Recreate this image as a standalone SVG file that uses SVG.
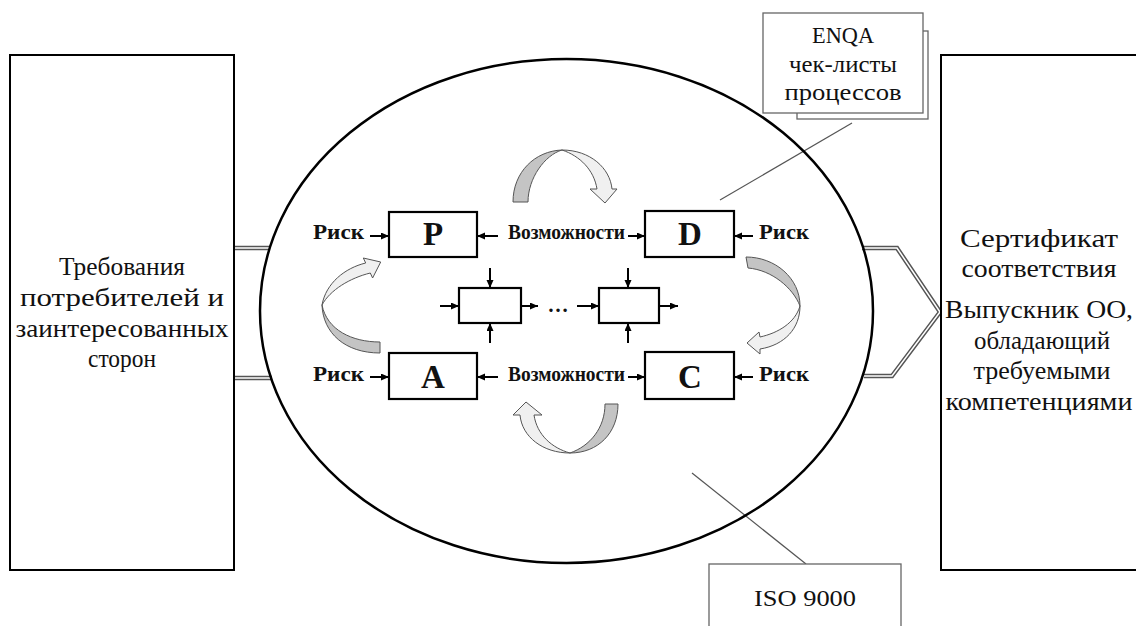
<svg xmlns="http://www.w3.org/2000/svg" width="1136" height="626" viewBox="0 0 1136 626">
<defs>
<marker id="ah" markerUnits="userSpaceOnUse" markerWidth="9" markerHeight="8" refX="8" refY="3.5" orient="auto">
<path d="M0,0 L8,3.5 L0,7 Z" fill="#000"/>
</marker>
<style>
.big{fill:#fff;stroke:#000;stroke-width:2}
.t{font-family:"Liberation Serif","Times New Roman",serif;font-size:25px;fill:#111;text-anchor:middle}
.note{font-family:"Liberation Serif","Times New Roman",serif;font-size:24px;fill:#111;text-anchor:middle}
.lab{font-family:"Liberation Serif","Times New Roman",serif;font-size:21px;font-weight:bold;fill:#111}
.let{font-family:"Liberation Serif","Times New Roman",serif;font-size:33px;font-weight:bold;fill:#111;text-anchor:middle}
.box{fill:#fff;stroke:#000;stroke-width:2.2}
.arr{stroke:#000;stroke-width:2;fill:none;marker-end:url(#ah)}
.dk{fill:#c4c4c4;stroke:#555;stroke-width:1}
.lt{fill:#f0f0f0;stroke:#555;stroke-width:1}
.dbl-o{fill:none;stroke:#555;stroke-width:4.5}
.dbl-i{fill:none;stroke:#fff;stroke-width:1.5}
.ptr{stroke:#555;stroke-width:1.2;fill:none}
.nbox{fill:#fff;stroke:#666;stroke-width:1.3}
</style>
</defs>

<g id="connectors">
<line class="dbl-o" x1="234" y1="248" x2="270" y2="248"/>
<line class="dbl-i" x1="234" y1="248" x2="270" y2="248"/>
<line class="dbl-o" x1="234" y1="378" x2="272" y2="378"/>
<line class="dbl-i" x1="234" y1="378" x2="272" y2="378"/>
<polyline class="dbl-o" points="862,248 897,248 940,312 892,376 864,376"/>
<polyline class="dbl-i" points="862,248 897,248 940,312 892,376 864,376"/>
<line class="ptr" x1="852" y1="123" x2="720" y2="200"/>
<line class="ptr" x1="692" y1="473" x2="806" y2="564"/>
</g>

<g id="requirements">
<rect class="big" x="10" y="55" width="224" height="515"/>
<text class="t" x="122" y="275" textLength="126" lengthAdjust="spacingAndGlyphs">Требования</text>
<text class="t" x="122" y="306" textLength="204" lengthAdjust="spacingAndGlyphs">потребителей и</text>
<text class="t" x="122" y="337" textLength="213" lengthAdjust="spacingAndGlyphs">заинтересованных</text>
<text class="t" x="122" y="367" textLength="68" lengthAdjust="spacingAndGlyphs">сторон</text>
</g>

<g id="result">
<rect class="big" x="941" y="55" width="210" height="515"/>
<text class="t" x="1039" y="247" textLength="158" lengthAdjust="spacingAndGlyphs">Сертификат</text>
<text class="t" x="1039" y="277" textLength="155" lengthAdjust="spacingAndGlyphs">соответствия</text>
<text class="t" x="1039" y="318" textLength="188" lengthAdjust="spacingAndGlyphs">Выпускник ОО,</text>
<text class="t" x="1042" y="349" textLength="136" lengthAdjust="spacingAndGlyphs">обладающий</text>
<text class="t" x="1042" y="379" textLength="137" lengthAdjust="spacingAndGlyphs">требуемыми</text>
<text class="t" x="1039" y="410" textLength="187" lengthAdjust="spacingAndGlyphs">компетенциями</text>
</g>

<g id="system">
<ellipse cx="566.5" cy="311" rx="306.5" ry="252" fill="none" stroke="#000" stroke-width="2.5"/>
</g>

<g id="enqa">
<rect class="nbox" x="797" y="31" width="131" height="88"/>
<rect class="nbox" x="763" y="13" width="160" height="100"/>
<text class="note" x="843" y="43" textLength="62" lengthAdjust="spacingAndGlyphs">ENQA</text>
<text class="note" x="843" y="72" textLength="108" lengthAdjust="spacingAndGlyphs">чек-листы</text>
<text class="note" x="843" y="100" textLength="117" lengthAdjust="spacingAndGlyphs">процессов</text>
</g>

<g id="iso">
<rect class="nbox" x="709" y="564" width="192" height="70"/>
<text class="note" x="805" y="606" textLength="102" lengthAdjust="spacingAndGlyphs">ISO 9000</text>
</g>

<g id="P">
<rect class="box" x="389" y="212" width="88" height="45"/>
<text class="let" x="433" y="245">P</text>
</g>
<g id="D">
<rect class="box" x="645" y="211" width="89" height="46"/>
<text class="let" x="690" y="245">D</text>
</g>
<g id="A">
<rect class="box" x="389" y="353" width="88" height="46"/>
<text class="let" x="433" y="388">A</text>
</g>
<g id="C">
<rect class="box" x="645" y="352" width="89" height="47"/>
<text class="let" x="690" y="388">C</text>
</g>

<g id="sub1"><rect class="box" x="459" y="288" width="62" height="35"/></g>
<g id="sub2"><rect class="box" x="599" y="288" width="60" height="35"/></g>

<g id="labels">
<text class="lab" x="313" y="239" textLength="51" lengthAdjust="spacingAndGlyphs">Риск</text>
<text class="lab" x="508" y="239" textLength="117" lengthAdjust="spacingAndGlyphs">Возможности</text>
<text class="lab" x="759" y="239" textLength="50" lengthAdjust="spacingAndGlyphs">Риск</text>
<text class="lab" x="313" y="381" textLength="51" lengthAdjust="spacingAndGlyphs">Риск</text>
<text class="lab" x="508" y="381" textLength="117" lengthAdjust="spacingAndGlyphs">Возможности</text>
<text class="lab" x="759" y="381" textLength="50" lengthAdjust="spacingAndGlyphs">Риск</text>
<text class="lab" x="558" y="312" text-anchor="middle">…</text>
</g>

<g id="flow-arrows">
<line class="arr" x1="370" y1="236" x2="389" y2="236"/>
<line class="arr" x1="498" y1="236" x2="477" y2="236"/>
<line class="arr" x1="628" y1="236" x2="645" y2="236"/>
<line class="arr" x1="753" y1="236" x2="734" y2="236"/>
<line class="arr" x1="370" y1="377" x2="389" y2="377"/>
<line class="arr" x1="498" y1="377" x2="477" y2="377"/>
<line class="arr" x1="628" y1="377" x2="645" y2="377"/>
<line class="arr" x1="753" y1="377" x2="734" y2="377"/>
<line class="arr" x1="440" y1="306" x2="459" y2="306"/>
<line class="arr" x1="521" y1="306" x2="538" y2="306"/>
<line class="arr" x1="577" y1="306" x2="599" y2="306"/>
<line class="arr" x1="659" y1="306" x2="678" y2="306"/>
<line class="arr" x1="490" y1="268" x2="490" y2="288"/>
<line class="arr" x1="490" y1="343" x2="490" y2="323"/>
<line class="arr" x1="628" y1="268" x2="628" y2="288"/>
<line class="arr" x1="628" y1="343" x2="628" y2="323"/>
</g>

<g id="cycle-arrows">
<path class="dk" d="M513,202 C513,172 535,151 562,150 C545,155 528,178 528,202 Z"/>
<path class="lt" d="M562,150 C590,150 610,168 612,189 L617,189 L605,203 L590,189 L597,189 C594,170 580,156 562,150 Z"/>
<path class="dk" d="M746,257 C775,257 800,278 800,306 C793,288 772,270 748,268 Z"/>
<path class="lt" d="M800,306 C800,328 785,345 760,349 L760,354 L747,343 L759,332 L760,337 C778,333 795,323 800,306 Z"/>
<path class="dk" d="M618,404 C618,433 598,453 570,453 C590,446 605,428 605,404 Z"/>
<path class="lt" d="M570,453 C543,453 522,437 520,415 L513,415 L526,402 L542,415 L534,415 C537,435 552,448 570,453 Z"/>
<path class="dk" d="M380,342 C352,342 327,330 322,305 C323,333 345,353 380,353 Z"/>
<path class="lt" d="M322,305 C326,283 345,268 365.7,263 L363.3,258 L380.7,262 L372.6,278 L370.3,273 C350,278 330,290 322,305 Z"/>
</g>
</svg>
